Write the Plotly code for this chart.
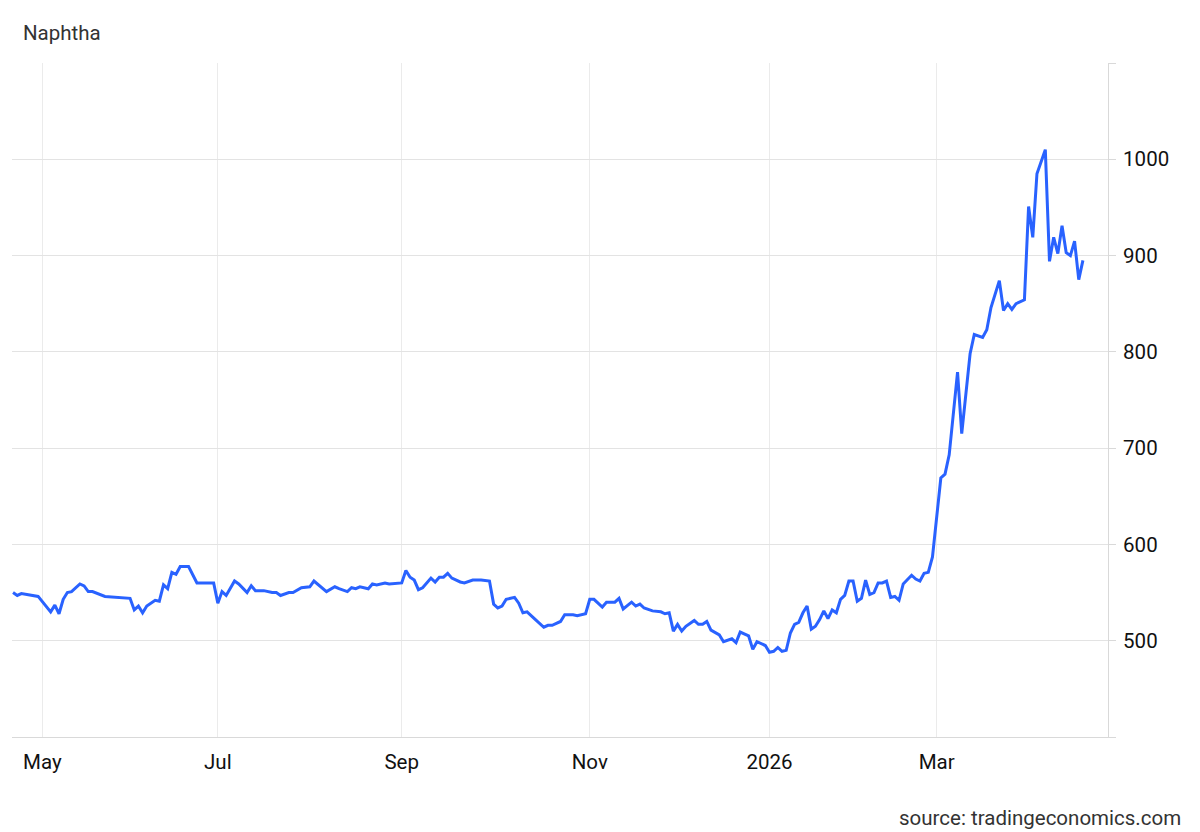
import plotly.graph_objects as go

dates = [
    "2025-04-22", "2025-04-23", "2025-04-24", "2025-04-29", "2025-04-30",
    "2025-05-05", "2025-05-06", "2025-05-07", "2025-05-08", "2025-05-09", "2025-05-12",
    "2025-05-14", "2025-05-15", "2025-05-16", "2025-05-19", "2025-05-22", "2025-05-28",
    "2025-06-02", "2025-06-03", "2025-06-04", "2025-06-05", "2025-06-06", "2025-06-10",
    "2025-06-11", "2025-06-12", "2025-06-13", "2025-06-16", "2025-06-17", "2025-06-18",
    "2025-06-20", "2025-06-24", "2025-06-27", "2025-06-30",
    "2025-07-01", "2025-07-02", "2025-07-03", "2025-07-07", "2025-07-08", "2025-07-10",
    "2025-07-11", "2025-07-14", "2025-07-16", "2025-07-18", "2025-07-21", "2025-07-22",
    "2025-07-24", "2025-07-25", "2025-07-29", "2025-07-31", "2025-08-01", "2025-08-04",
    "2025-08-06", "2025-08-08", "2025-08-11", "2025-08-13", "2025-08-14", "2025-08-15",
    "2025-08-18", "2025-08-20", "2025-08-21", "2025-08-22", "2025-08-26", "2025-08-27",
    "2025-09-01",
    "2025-09-02", "2025-09-03", "2025-09-04", "2025-09-05", "2025-09-08", "2025-09-10",
    "2025-09-11", "2025-09-12", "2025-09-15", "2025-09-16", "2025-09-17", "2025-09-19",
    "2025-09-22", "2025-09-24", "2025-09-26", "2025-09-30", "2025-10-01", "2025-10-02",
    "2025-10-03", "2025-10-06", "2025-10-08", "2025-10-09", "2025-10-10", "2025-10-13",
    "2025-10-15", "2025-10-16", "2025-10-17", "2025-10-20", "2025-10-21", "2025-10-23",
    "2025-10-24", "2025-10-28", "2025-10-29", "2025-10-31",
    "2025-11-03", "2025-11-04", "2025-11-06", "2025-11-07", "2025-11-11", "2025-11-12",
    "2025-11-13", "2025-11-17", "2025-11-18", "2025-11-19", "2025-11-20", "2025-11-24",
    "2025-11-26", "2025-11-27", "2025-11-28", "2025-12-01", "2025-12-02", "2025-12-03",
    "2025-12-04", "2025-12-08", "2025-12-09", "2025-12-10", "2025-12-11", "2025-12-12",
    "2025-12-16", "2025-12-17", "2025-12-19", "2025-12-22", "2025-12-23", "2025-12-25",
    "2025-12-26", "2025-12-29", "2025-12-31",
    "2026-01-01", "2026-01-02", "2026-01-05", "2026-01-06", "2026-01-07", "2026-01-08",
    "2026-01-09", "2026-01-12", "2026-01-13", "2026-01-14", "2026-01-15", "2026-01-16",
    "2026-01-20", "2026-01-21", "2026-01-22", "2026-01-23", "2026-01-26", "2026-01-27",
    "2026-01-28", "2026-01-29", "2026-01-30", "2026-02-02", "2026-02-03", "2026-02-04",
    "2026-02-05", "2026-02-06", "2026-02-09", "2026-02-10", "2026-02-11", "2026-02-12",
    "2026-02-13", "2026-02-17", "2026-02-18", "2026-02-20", "2026-02-23", "2026-02-24",
    "2026-02-25", "2026-02-26", "2026-02-27",
    "2026-03-02", "2026-03-03", "2026-03-04", "2026-03-05", "2026-03-09", "2026-03-10",
    "2026-03-12", "2026-03-13", "2026-03-17", "2026-03-18", "2026-03-19", "2026-03-23",
    "2026-03-24", "2026-03-25", "2026-03-26", "2026-03-27", "2026-03-31", "2026-04-01",
    "2026-04-02", "2026-04-03", "2026-04-07", "2026-04-08", "2026-04-09", "2026-04-10",
    "2026-04-13", "2026-04-14", "2026-04-15", "2026-04-16", "2026-04-17", "2026-04-20",
]

prices = [
    550, 547, 549, 547, 546,
    530, 537, 528, 543, 550, 551,
    559, 557, 551, 551, 546, 545,
    544, 532, 536, 529, 536, 542,
    541, 558, 554, 571, 569, 577,
    577, 560, 560, 560,
    539, 551, 547, 562, 559, 550,
    557, 552, 552, 550, 550, 547,
    550, 550, 555, 556, 562, 558,
    551, 556, 554, 551, 555, 554,
    556, 554, 559, 558, 560, 559,
    560,
    573, 566, 563, 553, 555, 565,
    561, 566, 566, 570, 565, 561,
    560, 563, 563, 562, 538, 534,
    536, 543, 545, 539, 529, 530,
    522, 518, 514, 516, 516, 520,
    527, 527, 526, 528,
    543, 543, 535, 540, 540, 544,
    533, 540, 536, 538, 534, 531,
    530, 528, 529, 510, 517, 510,
    515, 521, 517, 517, 520, 511,
    506, 499, 502, 498, 509, 505,
    491, 499, 495,
    488, 489, 493, 489, 490, 508,
    517, 519, 529, 536, 512, 515,
    522, 531, 523, 532, 529, 543,
    547, 562, 562, 541, 544, 563,
    548, 550, 560, 560, 562, 545,
    546, 542, 559, 568, 564, 562,
    570, 571, 587,
    630, 669, 673, 693, 779, 715,
    798, 818, 815, 823, 846, 874,
    843, 850, 844, 850, 854, 951,
    919, 985, 1010, 894, 919, 902,
    931, 903, 900, 915, 875, 895,
]

x_tick_vals = ["2025-05-01", "2025-07-01", "2025-09-01", "2025-11-03", "2026-01-01", "2026-03-02"]
x_tick_text = ["May", "Jul", "Sep", "Nov", "2026", "Mar"]
y_tick_vals = [400, 500, 600, 700, 800, 900, 1000, 1100]
y_tick_text = ["", "500", "600", "700", "800", "900", "1000", ""]
closed_days = ["2025-05-26", "2026-01-19", "2026-02-16"]

fig = go.Figure()
fig.add_trace(go.Scatter(
    x=dates, y=prices, mode="lines",
    line=dict(color="#2962ff", width=3),
    hoverinfo="x+y", showlegend=False,
))

fig.update_layout(
    width=1192, height=824,
    margin=dict(l=4, r=92, t=55, b=95, autoexpand=False),
    paper_bgcolor="white", plot_bgcolor="white",
    font=dict(family="Roboto, Arial, sans-serif", size=20.5, color="#111111"),
    annotations=[
        dict(text="Naphtha", xref="paper", yref="paper", x=0.0082, y=1.0,
             xanchor="left", yanchor="middle", yshift=30, showarrow=False,
             font=dict(size=20.5, color="#333333")),
        dict(text="source: tradingeconomics.com", xref="paper", yref="paper",
             x=1.0684, y=0, xanchor="right", yanchor="middle", yshift=-81,
             showarrow=False, font=dict(size=20.5, color="#333333")),
    ],
)

fig.update_xaxes(
    type="date",
    range=["2025-04-21 18:00", "2026-04-28"],
    rangebreaks=[dict(bounds=["sat", "mon"]), dict(values=closed_days)],
    tickvals=x_tick_vals, ticktext=x_tick_text,
    showgrid=True, gridcolor="#ebebeb", gridwidth=1,
    showline=True, linecolor="#d9d9d9", linewidth=1,
    ticks="", ticklabelstandoff=6,
    tickfont=dict(size=20.5, color="#111111"),
    zeroline=False,
)
fig.update_yaxes(
    side="right",
    range=[400, 1100],
    tickvals=y_tick_vals, ticktext=y_tick_text,
    showgrid=True, gridcolor="#e3e3e3", gridwidth=1,
    showline=True, linecolor="#d9d9d9", linewidth=1,
    ticks="outside", ticklen=7, tickcolor="#d9d9d9",
    ticklabelstandoff=3,
    tickfont=dict(size=20.5, color="#111111"),
    zeroline=False,
)

fig.write_html("out.html")
